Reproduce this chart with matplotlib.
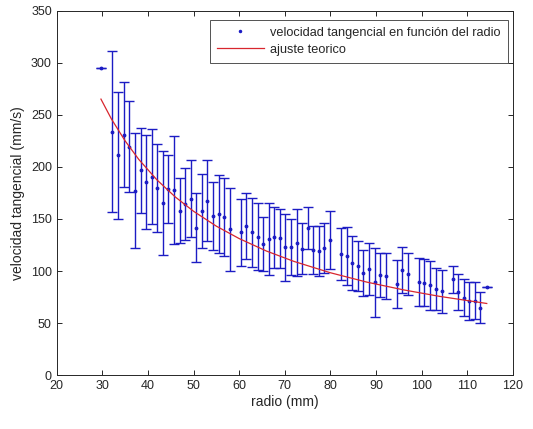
#!/usr/bin/env python3
"""Tangential velocity vs radius with error bars and the theoretical fit."""

import matplotlib

matplotlib.use("Agg")
import matplotlib.pyplot as plt
from matplotlib.lines import Line2D

# measured points (mm, mm/s) and their error half-widths
radio = [
    29.7, 32.2, 33.5, 34.8, 35.9, 37.2, 38.4, 39.6, 40.8, 42.1, 43.3, 44.5, 45.7,
    47.0, 48.1, 49.4, 50.6, 51.9, 53.0, 54.3, 55.5, 56.7, 57.9, 60.4, 61.6, 62.8,
    64.1, 65.2, 66.5, 67.7, 68.9, 70.1, 71.4, 72.6, 73.8, 75.0, 76.3, 77.5, 78.7,
    79.9, 82.4, 83.6, 84.8, 86.1, 87.2, 88.5, 89.7, 90.9, 92.2, 94.6, 95.8, 97.0,
    99.4, 100.5, 101.9, 103.1, 104.4, 106.8, 108.0, 109.3, 110.5, 111.7, 112.9,
    114.3,
]
velocidad = [
    295.1, 233.7, 211.0, 231.0, 219.3, 177.1, 196.7, 185.7, 190.5, 179.7, 165.3,
    178.7, 177.8, 157.9, 164.3, 169.5, 141.6, 157.6, 167.5, 152.8, 154.8, 152.2,
    140.1, 137.2, 143.2, 137.2, 133.0, 125.7, 130.8, 132.4, 131.4, 122.8, 123.1,
    127.2, 121.5, 141.0, 119.9, 119.3, 122.1, 129.8, 116.4, 114.5, 107.5, 104.9,
    98.4, 102.0, 89.2, 95.9, 95.6, 87.6, 101.0, 97.2, 89.5, 88.8, 86.3, 83.1,
    80.6, 92.1, 79.9, 74.5, 71.3, 71.6, 64.9, 84.5,
]
error = [
    0.0, 77.0, 61.0, 50.0, 43.5, 55.0, 41.0, 45.0, 45.5, 42.0, 50.0, 32.5, 52.0,
    31.0, 34.5, 36.7, 33.0, 35.8, 38.9, 32.5, 37.0, 37.5, 40.0, 32.0, 32.0, 33.0,
    32.0, 26.0, 34.7, 29.5, 28.5, 32.3, 27.0, 32.0, 24.5, 20.0, 23.0, 24.0, 24.0,
    28.0, 25.0, 28.0, 26.0, 24.0, 22.0, 24.5, 33.0, 21.0, 22.0, 23.0, 22.0, 20.6,
    23.0, 22.5, 23.5, 20.0, 20.5, 13.0, 17.0, 17.5, 18.0, 18.0, 15.0, 0.0,
]

# theoretical fit curve
ajuste_radio = [29.7, 32, 35, 38, 42, 46, 50, 55, 60, 66, 72, 80, 88, 96, 104, 114.3]
ajuste_vel = [265.0, 245.9, 224.9, 207.1, 187.4, 171.1, 157.4, 143.1, 131.2,
              119.2, 109.3, 98.4, 89.4, 82.0, 75.7, 68.9]

X_TICKS = [20, 30, 40, 50, 60, 70, 80, 90, 100, 110, 120]
Y_TICKS = [0, 50, 100, 150, 200, 250, 300, 350]

BLUE = "#1c1cc4"
RED = "#d8262e"
TEXT = "#262626"


def main():
    plt.rcParams["font.family"] = ["Liberation Sans", "DejaVu Sans"]
    fig = plt.figure(figsize=(5.33, 4.29), dpi=100)
    ax = fig.add_axes([0.1064, 0.1252, 0.8556, 0.8503])

    ax.errorbar(
        radio,
        velocidad,
        yerr=error,
        fmt=".",
        color=BLUE,
        ecolor=BLUE,
        markersize=3.5,
        elinewidth=1.0,
        capsize=3.8,
        capthick=1.0,
        zorder=2,
    )
    ax.plot(ajuste_radio, ajuste_vel, color=RED, linewidth=0.9, zorder=3)

    ax.set_xlim(20, 120)
    ax.set_ylim(0, 350)
    ax.set_xticks(X_TICKS)
    ax.set_yticks(Y_TICKS)
    ax.tick_params(direction="in", top=True, right=True, length=3.5,
                   width=0.7, colors=TEXT, labelsize=9)
    for spine in ax.spines.values():
        spine.set_color(TEXT)
        spine.set_linewidth(0.7)
    ax.set_xlabel("radio (mm)", fontsize=10, color=TEXT, labelpad=2)
    ax.set_ylabel("velocidad tangencial (mm/s)", fontsize=10, color=TEXT, labelpad=4)

    handles = [
        Line2D([], [], linestyle="none", marker=".", markersize=3, color=BLUE),
        Line2D([], [], color=RED, linewidth=0.9),
    ]
    labels = ["velocidad tangencial en función del radio", "ajuste teorico"]
    leg = ax.legend(
        handles,
        labels,
        loc="upper right",
        bbox_to_anchor=(0.998, 0.985),
        fontsize=9.2,
        frameon=True,
        fancybox=False,
        edgecolor=TEXT,
        borderpad=0.55,
        handlelength=3.7,
        labelspacing=0.4,
        handletextpad=0.5,
        borderaxespad=0.3,
    )
    leg.get_frame().set_linewidth(0.7)
    for text in leg.get_texts():
        text.set_color(TEXT)

    fig.savefig("out.png", dpi=100, facecolor="white")
    plt.close(fig)


if __name__ == "__main__":
    main()
